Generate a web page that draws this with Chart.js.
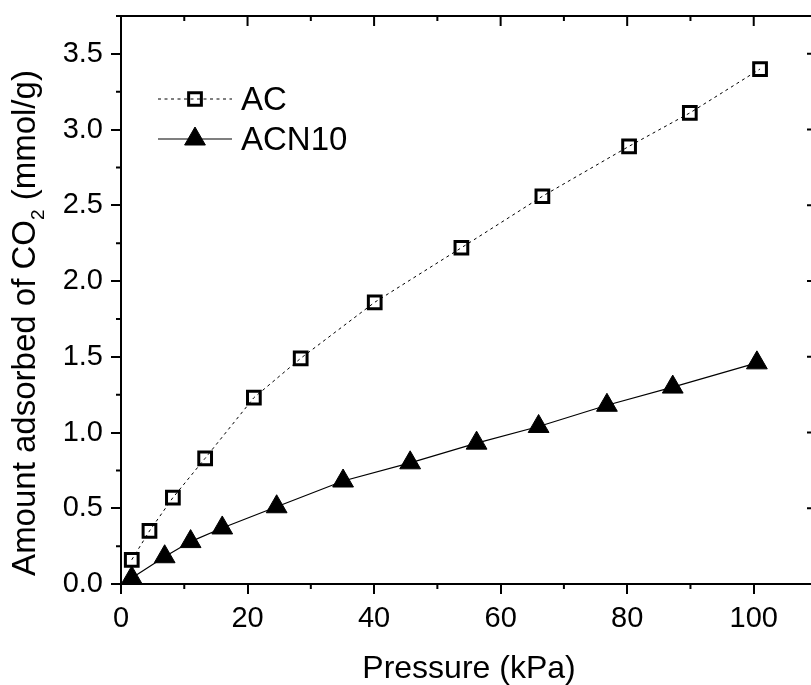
<!DOCTYPE html>
<html>
<head>
<meta charset="utf-8">
<script src="https://cdn.jsdelivr.net/npm/chart.js@4.4.0/dist/chart.umd.min.js"></script>
<style>
  html, body { margin: 0; padding: 0; background: #fff; overflow: hidden; }
  canvas { display: block; }
</style>
</head>
<body>
<canvas id="myChart" width="830" height="685"></canvas>
<script>
// values
const seriesNames = ['AC', 'ACN10'];
const acPressure = [1.7, 4.5, 8.2, 13.3, 21.0, 28.4, 40.1, 53.8, 66.6, 80.3, 89.9, 101.0];
const acAmount   = [0.16, 0.35, 0.57, 0.83, 1.23, 1.49, 1.86, 2.22, 2.56, 2.89, 3.11, 3.40];
const acn10Pressure = [1.7, 6.9, 11.0, 16.0, 24.6, 35.1, 45.7, 56.2, 66.0, 76.8, 87.2, 100.5];
const acn10Amount   = [0.04, 0.18, 0.28, 0.37, 0.51, 0.68, 0.80, 0.93, 1.04, 1.18, 1.30, 1.46];
const xTickLabels = [0, 20, 40, 60, 80, 100];
const yTickLabels = [0.0, 0.5, 1.0, 1.5, 2.0, 2.5, 3.0, 3.5];

const FONT = '"Liberation Sans", Arial, sans-serif';

function toPoints(xs, ys) {
  return xs.map((x, i) => ({ x: x, y: ys[i] }));
}
function isMajorX(v) { return xTickLabels.indexOf(v) >= 0; }
function isMajorY(v) { return yTickLabels.some(t => Math.abs(t - v) < 1e-6); }

// frame, minor ticks, inner ticks, axis titles and legend
const framePlugin = {
  id: 'frame',
  afterDraw(chart) {
    const c = chart.ctx, a = chart.chartArea;
    const xs = chart.scales.x, ys = chart.scales.y;
    c.save();
    c.strokeStyle = '#000';
    c.lineWidth = 2;
    c.beginPath();
    c.moveTo(a.left, a.top); c.lineTo(a.right, a.top); c.lineTo(a.right, a.bottom);
    c.stroke();

    c.beginPath();
    xs.ticks.forEach(t => {
      const px = xs.getPixelForValue(t.value);
      const len = isMajorX(t.value) ? 10 : 5;
      c.moveTo(px, a.top); c.lineTo(px, a.top + len);
      if (len === 5) { c.moveTo(px, a.bottom); c.lineTo(px, a.bottom + len); }
    });
    ys.ticks.forEach(t => {
      const py = ys.getPixelForValue(t.value);
      const len = isMajorY(t.value) ? 10 : 5;
      c.moveTo(a.right, py); c.lineTo(a.right - len, py);
      if (len === 5) { c.moveTo(a.left, py); c.lineTo(a.left - len, py); }
    });
    c.stroke();

    // axis titles
    c.fillStyle = '#000';
    c.textBaseline = 'alphabetic';
    c.textAlign = 'center';
    c.font = '32px ' + FONT;
    c.fillText('Pressure (kPa)', (a.left + a.right) / 2, 678);

    c.save();
    c.translate(35, 323);
    c.rotate(-Math.PI / 2);
    c.textAlign = 'left';
    const main = '33px ' + FONT, sub = '19px ' + FONT;
    const p1 = 'Amount adsorbed of CO', p2 = '2', p3 = ' (mmol/g)';
    c.font = main; const w1 = c.measureText(p1).width, w3 = c.measureText(p3).width;
    c.font = sub; const w2 = c.measureText(p2).width;
    const x0 = -(w1 + w2 + w3) / 2;
    c.font = main; c.fillText(p1, x0, 0);
    c.font = sub; c.fillText(p2, x0 + w1, 9);
    c.font = main; c.fillText(p3, x0 + w1 + w2, 0);
    c.restore();

    // legend
    const rows = [99, 139];
    chart.data.datasets.forEach((ds, i) => {
      const y = rows[i];
      c.save();
      c.strokeStyle = ds.borderColor;
      c.lineWidth = ds.borderWidth;
      c.setLineDash(ds.borderDash || []);
      c.beginPath(); c.moveTo(158, y); c.lineTo(232, y); c.stroke();
      c.restore();
      c.save();
      c.strokeStyle = ds.pointBorderColor;
      c.fillStyle = ds.pointBackgroundColor;
      c.lineWidth = ds.pointBorderWidth;
      Chart.helpers.drawPoint(c, { pointStyle: ds.pointStyle, radius: ds.pointRadius, rotation: 0, borderWidth: ds.pointBorderWidth }, 195, y);
      c.restore();
      c.fillStyle = '#000';
      c.textAlign = 'left';
      c.font = '33px ' + FONT;
      c.fillText(ds.label, 241, y + 11);
    });
    c.restore();
  }
};

const ctx = document.getElementById('myChart');
const myChart = new Chart(ctx, {
  type: 'line',
  data: {
    datasets: [{
      label: seriesNames[0],
      data: toPoints(acPressure, acAmount),
      borderColor: '#000',
      borderWidth: 1,
      borderDash: [3, 3.5],
      pointStyle: 'rect',
      pointRadius: 9,
      pointBorderWidth: 3,
      pointBorderColor: '#000',
      pointBackgroundColor: 'rgba(0,0,0,0)',
      tension: 0,
      clip: false
    }, {
      label: seriesNames[1],
      data: toPoints(acn10Pressure, acn10Amount),
      borderColor: '#000',
      borderWidth: 1.2,
      pointStyle: 'triangle',
      pointRadius: 12,
      pointBorderWidth: 1,
      pointBorderColor: '#000',
      pointBackgroundColor: '#000',
      tension: 0,
      clip: false
    }]
  },
  options: {
    responsive: false,
    animation: false,
    devicePixelRatio: 1,
    layout: { padding: { top: 16, right: 11, left: 0, bottom: 0 } },
    plugins: { legend: { display: false }, tooltip: { enabled: false } },
    scales: {
      x: {
        type: 'linear',
        min: 0, max: 110,
        afterFit(scale) {
          scale.height = 101;
          scale.paddingLeft = 0; scale.paddingRight = 0;
        },
        border: { display: true, color: '#000', width: 2 },
        grid: {
          drawOnChartArea: false, tickLength: 10, lineWidth: 2,
          color: c => isMajorX(c.tick.value) ? '#000' : 'rgba(0,0,0,0)'
        },
        ticks: {
          stepSize: 10, padding: 8, color: '#000', maxRotation: 0, autoSkip: false,
          font: { family: FONT, size: 29 },
          callback: v => isMajorX(v) ? String(v) : ''
        }
      },
      y: {
        min: 0, max: 3.75,
        afterFit(scale) {
          scale.width = 121;
          scale.paddingTop = 0; scale.paddingBottom = 0;
        },
        border: { display: true, color: '#000', width: 2 },
        grid: {
          drawOnChartArea: false, tickLength: 10, lineWidth: 2,
          color: c => isMajorY(c.tick.value) ? '#000' : 'rgba(0,0,0,0)'
        },
        ticks: {
          stepSize: 0.25, padding: 8, color: '#000', autoSkip: false,
          font: { family: FONT, size: 29 },
          callback: v => isMajorY(v) ? v.toFixed(1) : ''
        }
      }
    }
  },
  plugins: [framePlugin]
});
</script>
</body>
</html>
